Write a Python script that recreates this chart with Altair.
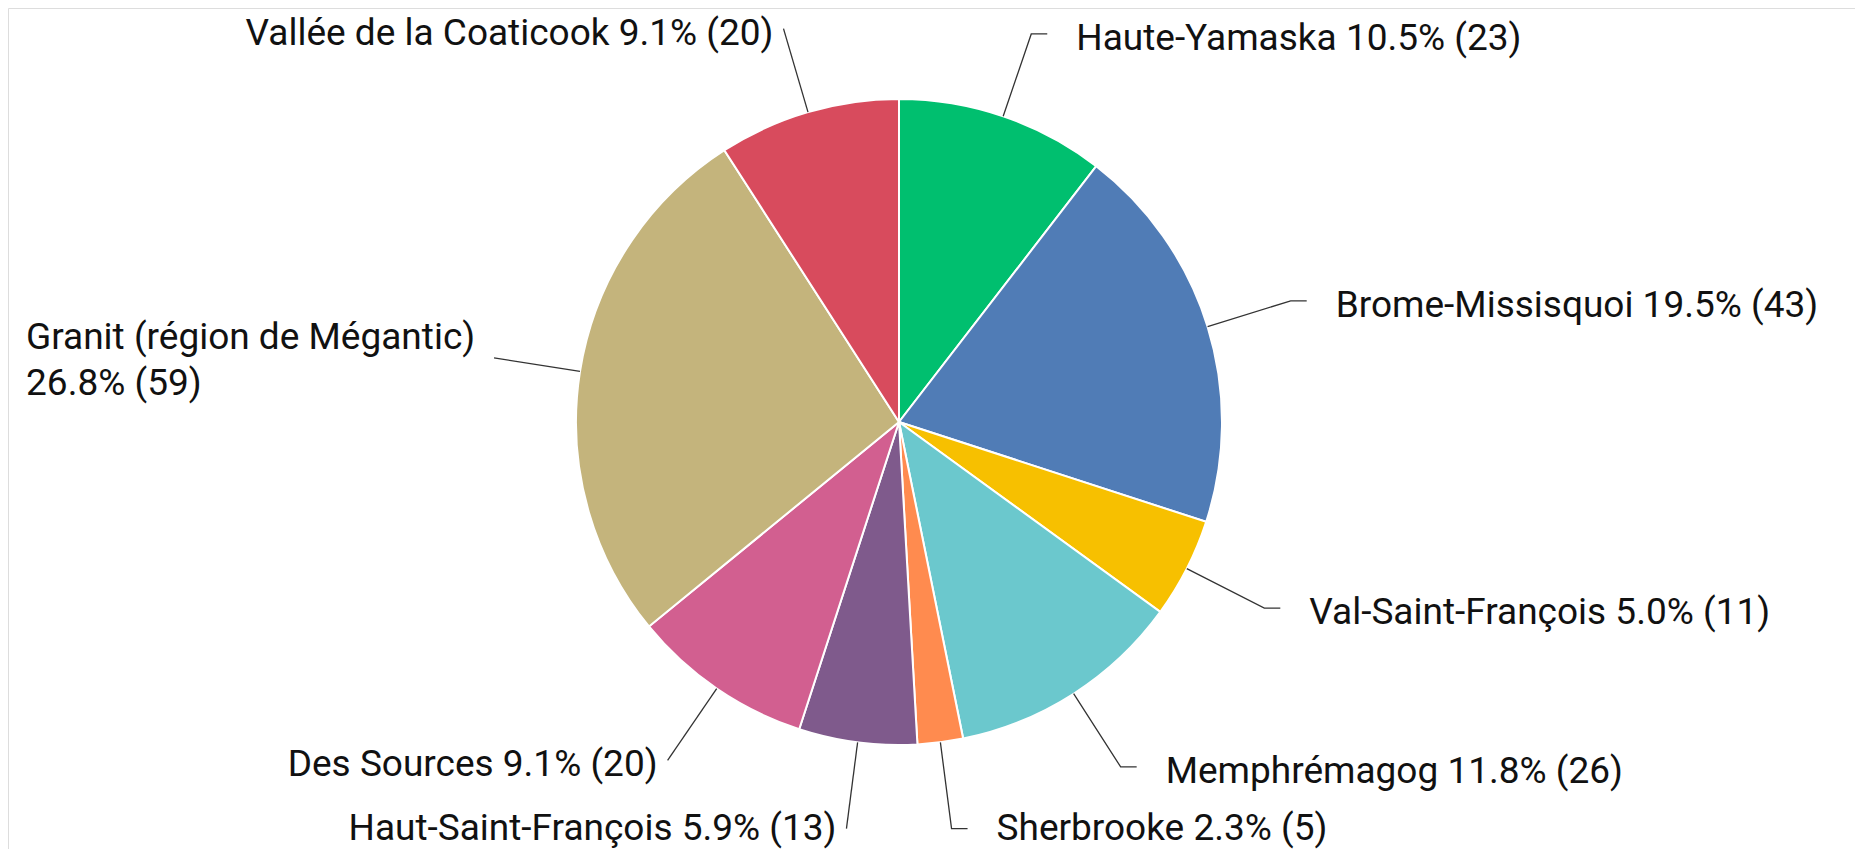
import math
import altair as alt
import pandas as pd

# ---- data ----
labels = [
    "Haute-Yamaska",
    "Brome-Missisquoi",
    "Val-Saint-François",
    "Memphrémagog",
    "Sherbrooke",
    "Haut-Saint-François",
    "Des Sources",
    "Granit (région de Mégantic)",
    "Vallée de la Coaticook",
]
counts = [23, 43, 11, 26, 5, 13, 20, 59, 20]
percents = ["10.5%", "19.5%", "5.0%", "11.8%", "2.3%", "5.9%", "9.1%", "26.8%", "9.1%"]
colors = ["#00bf6f", "#507cb6", "#f7c000", "#6bc8cd", "#ff8b4f",
          "#7f5a8c", "#d25f90", "#c4b47c", "#d84b5d"]

# ---- layout (page pixels) ----
W, H = 1847, 841
OX, OY = 8, 8
CX, CY = 899, 422
R = 323
R_ELBOW = 410
FONT = "Roboto"
FS = 37
MAX_BASE = OY + H - 9

total = sum(counts)
arc_df = pd.DataFrame({"label": labels, "count": counts, "idx": list(range(len(labels)))})

line_rows, left_rows, right_rows = [], [], []
cum = 0
for i, (lab, c, p) in enumerate(zip(labels, counts, percents)):
    mid = (cum + c / 2) / total
    cum += c
    a = 2 * math.pi * mid
    s, co = math.sin(a), math.cos(a)
    x0, y0 = CX + R * s, CY - R * co
    x1, y1 = CX + R_ELBOW * s, CY - R_ELBOW * co
    right = s > 0
    x2 = x1 + 16 if right else x1
    for k, (x, y) in enumerate([(x0, y0), (x1, y1), (x2, y1)]):
        line_rows.append({"label": lab, "k": k, "x": x, "y": y})
    base = min(y1 + 16, MAX_BASE)
    if lab.startswith("Granit"):
        left_x = x1 - 468
        right_rows.append({"t": lab, "x": left_x, "y": y1 - 9})
        right_rows.append({"t": f"{p} ({c})", "x": left_x, "y": y1 + 37})
    elif right:
        right_rows.append({"t": f"{lab} {p} ({c})", "x": x1 + 45, "y": base})
    else:
        left_rows.append({"t": f"{lab} {p} ({c})", "x": x1 - 10, "y": base})

xs = alt.Scale(domain=[OX, OX + W], nice=False, zero=False)
ys = alt.Scale(domain=[OY, OY + H], nice=False, zero=False, reverse=True)

arc = alt.Chart(arc_df).mark_arc(outerRadius=R, stroke="white", strokeWidth=2).encode(
    theta=alt.Theta("count:Q", stack=True),
    color=alt.Color("label:N", scale=alt.Scale(domain=labels, range=colors), legend=None),
    order=alt.Order("idx:Q", sort="ascending"),
    x=alt.XDatum(CX, type="quantitative", scale=xs, axis=None),
    y=alt.YDatum(CY, type="quantitative", scale=ys, axis=None),
)

lines = alt.Chart(pd.DataFrame(line_rows)).mark_line(color="#333333", strokeWidth=1.3).encode(
    x=alt.X("x:Q", scale=xs, axis=None),
    y=alt.Y("y:Q", scale=ys, axis=None),
    detail="label:N",
    order="k:Q",
)

txt_right = alt.Chart(pd.DataFrame(right_rows)).mark_text(
    align="left", baseline="alphabetic", font=FONT, fontSize=FS, color="#111111"
).encode(
    x=alt.X("x:Q", scale=xs, axis=None),
    y=alt.Y("y:Q", scale=ys, axis=None),
    text="t:N",
)

txt_left = alt.Chart(pd.DataFrame(left_rows)).mark_text(
    align="right", baseline="alphabetic", font=FONT, fontSize=FS, color="#111111"
).encode(
    x=alt.X("x:Q", scale=xs, axis=None),
    y=alt.Y("y:Q", scale=ys, axis=None),
    text="t:N",
)

chart = alt.layer(arc, lines, txt_right, txt_left).properties(
    width=W, height=H, padding=0,
    autosize=alt.AutoSizeParams(type="none"),
).configure_view(stroke=None).configure(background="white")

chart.save("out.html", embed_options={"renderer": "svg", "actions": False})
